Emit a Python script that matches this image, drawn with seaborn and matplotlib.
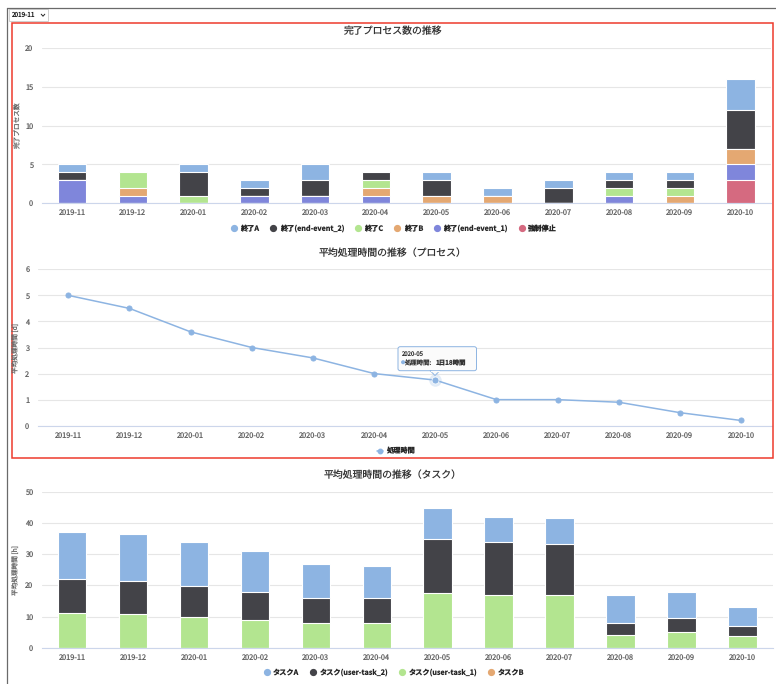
import numpy as np
import pandas as pd
import matplotlib
matplotlib.use("Agg")
import matplotlib.pyplot as plt
from matplotlib.lines import Line2D
from matplotlib.patches import Rectangle, FancyBboxPatch, Polygon
import seaborn as sns

# ---- data -------------------------------------------------------------
months = ["2019-11", "2019-12", "2020-01", "2020-02", "2020-03", "2020-04",
          "2020-05", "2020-06", "2020-07", "2020-08", "2020-09", "2020-10"]

# completed processes per month (count)
end_a = [1, 0, 1, 1, 2, 0, 1, 1, 1, 1, 1, 4]
end_event_2 = [1, 0, 3, 1, 2, 1, 2, 0, 2, 1, 1, 5]
end_c = [0, 2, 1, 0, 0, 1, 0, 0, 0, 1, 1, 0]
end_b = [0, 1, 0, 0, 0, 1, 1, 1, 0, 0, 1, 2]
end_event_1 = [3, 1, 0, 1, 1, 1, 0, 0, 0, 1, 0, 2]
forced_stop = [0, 0, 0, 0, 0, 0, 0, 0, 0, 0, 0, 3]

# average process duration [d]
process_days = [5.0, 4.5, 3.6, 3.0, 2.6, 2.0, 1.75, 1.0, 1.0, 0.9, 0.5, 0.2]

# average task duration [h]
task_a = [15.0, 14.8, 14.0, 13.0, 10.8, 10.2, 10.0, 8.0, 8.4, 8.9, 8.3, 6.3]
task_user_2 = [11.0, 10.7, 9.9, 9.0, 8.0, 8.0, 17.4, 16.9, 16.4, 4.0, 4.7, 3.3]
task_user_1 = [11.0, 10.8, 10.0, 9.0, 8.0, 8.0, 17.5, 17.0, 16.9, 4.0, 4.9, 3.6]
task_b = [0, 0, 0, 0, 0, 0, 0, 0, 0, 0, 0, 0]

# ---- style ------------------------------------------------------------
sns.set_theme(style="white")
plt.rcParams["font.family"] = ["Noto Sans CJK JP", "DejaVu Sans"]
plt.rcParams["text.hinting"] = "no_hinting"
plt.rcParams["text.hinting_factor"] = 1

C_BLUE = "#8db4e2"
C_DARK = "#434348"
C_GREEN = "#b3e590"
C_ORANGE = "#e4a872"
C_PURPLE = "#7f86db"
C_RED = "#d56a80"
GRID = "#e6e6e6"
AXIS = "#ccd6eb"
LABEL = "#666666"
TITLE = "#333333"

W, H = 776, 684
fig = plt.figure(figsize=(W / 100, H / 100), dpi=100)
fig.patch.set_facecolor("white")


def fx(px):
    return px / W


def fy(py):
    return 1 - py / H


def make_axes(left, right, top, bottom):
    return fig.add_axes([fx(left), fy(bottom), fx(right - left), (bottom - top) / H])


def style_axes(ax, ymax, ystep):
    ax.set_xlim(-0.5, len(months) - 0.5)
    ax.set_ylim(0, ymax)
    ax.set_yticks(np.arange(0, ymax + 0.001, ystep))
    ax.set_yticklabels([f"{v:g}" for v in np.arange(0, ymax + 0.001, ystep)])
    ax.yaxis.grid(True, color=GRID, linewidth=0.8)
    ax.xaxis.grid(False)
    ax.set_axisbelow(True)
    for s in ("left", "right", "top"):
        ax.spines[s].set_visible(False)
    ax.spines["bottom"].set_color(AXIS)
    ax.spines["bottom"].set_linewidth(0.8)
    ax.set_xticks(range(len(months)))
    ax.set_xticklabels(months)
    ax.set_xticks(np.arange(-0.5, len(months), 1.0), minor=True)
    ax.tick_params(axis="x", which="major", length=0, pad=4.2, labelsize=5.3, labelcolor=LABEL)
    ax.tick_params(axis="x", which="minor", length=3, width=0.8, color=AXIS)
    ax.tick_params(axis="y", length=0, pad=6, labelsize=5.3, labelcolor=LABEL)
    ax.set_xlabel("")
    ax.set_ylabel("")


def stacked_bars(ax, layers):
    # layers listed bottom -> top; draw cumulative totals from the top down
    cum = np.cumsum([np.asarray(v, float) for v, _ in layers], axis=0)
    for i in range(len(layers) - 1, -1, -1):
        df = pd.DataFrame({"month": months, "value": cum[i]})
        sns.barplot(data=df, x="month", y="value", order=months, color=layers[i][1],
                    saturation=1, width=0.47, edgecolor="white", linewidth=0.8, ax=ax,
                    errorbar=None)


def legend_at(handles, labels, cx, cy, ncol, spacing=1.5):
    fig.legend(handles, labels, loc="center", bbox_to_anchor=(fx(cx), fy(cy)),
               ncol=ncol, frameon=False, handlelength=0.8,
               handletextpad=0.5, columnspacing=spacing,
               prop={"weight": "bold", "size": 5.2})


def dot(color):
    return Line2D([], [], linestyle="none", marker="o", markersize=4.2,
                  markerfacecolor=color, markeredgecolor=color)


# ---- page frame ---------------------------------------------------------
fig.add_artist(Line2D([fx(7), fx(W)], [fy(8.3), fy(8.3)], color="#6a6a6a", linewidth=0.9))
fig.add_artist(Line2D([fx(7.3), fx(7.3)], [fy(8.3), fy(H)], color="#6a6a6a", linewidth=0.9))
fig.add_artist(Rectangle((fx(9), fy(21)), fx(39), 12.5 / H, facecolor="white",
                         edgecolor="#c8c8c8", linewidth=0.6))
fig.text(fx(11), fy(15.2), "2019-11", fontsize=4.6, color="#222222", va="center", ha="left")
fig.add_artist(Line2D([fx(41.2), fx(43), fx(44.8)], [fy(14.2), fy(16.2), fy(14.2)],
                      color="#222222", linewidth=0.7))
fig.add_artist(Rectangle((fx(11.7), fy(458.3)), fx(772.7 - 11.7), (458.3 - 22.7) / H,
                         facecolor="none", edgecolor="#ee3a2c", linewidth=1.1))

# ---- chart 1: completed processes ---------------------------------------
ax1 = make_axes(41.7, 771, 48, 203.3)
stacked_bars(ax1, [(forced_stop, C_RED), (end_event_1, C_PURPLE), (end_b, C_ORANGE),
                   (end_c, C_GREEN), (end_event_2, C_DARK), (end_a, C_BLUE)])
style_axes(ax1, 20, 5)
fig.text(fx(393), fy(31), "完了プロセス数の推移", fontsize=7.1, color=TITLE, ha="center", va="center")
fig.text(fx(18), fy(125.5), "完了プロセス数", fontsize=4.8, color=LABEL, rotation=90,
         ha="center", va="center")
legend_at([dot(C_BLUE), dot(C_DARK), dot(C_GREEN), dot(C_ORANGE), dot(C_PURPLE), dot(C_RED)],
          ["終了A", "終了(end-event_2)", "終了C", "終了B", "終了(end-event_1)", "強制停止"],
          394, 228.5, 6)

# ---- chart 2: average process duration ------------------------------------
ax2 = make_axes(37.7, 771.7, 269.3, 425.7)
sns.lineplot(x=np.arange(len(months)), y=process_days, color=C_BLUE, linewidth=1.1,
             marker="o", markersize=3.6, markeredgecolor=C_BLUE, ax=ax2)
style_axes(ax2, 6, 1)
hi = months.index("2020-05")
ax2.plot([hi], [process_days[hi]], marker="o", markersize=9, color=C_BLUE, alpha=0.25,
         markeredgewidth=0, zorder=4)
ax2.plot([hi], [process_days[hi]], marker="o", markersize=5, color=C_BLUE,
         markeredgecolor="white", markeredgewidth=0.5, zorder=5)
fig.text(fx(393), fy(253.3), "平均処理時間の推移（プロセス）", fontsize=7.1, color=TITLE,
         ha="center", va="center")
fig.text(fx(17), fy(348), "平均処理時間 [d]", fontsize=4.8, color=LABEL, rotation=90,
         ha="center", va="center")
legend_at([Line2D([], [], color=C_BLUE, linewidth=1.1, marker="o", markersize=3.2)],
          ["処理時間"], 396, 450.8, 1)

# tooltip on the highlighted month
fig.add_artist(FancyBboxPatch((fx(398), fy(370.7)), fx(78.5), 24 / H,
                              boxstyle="round,pad=0,rounding_size=0.003",
                              facecolor="#fbfbfb", edgecolor=C_BLUE, linewidth=0.7))
fig.add_artist(Polygon([[fx(430), fy(370.5)], [fx(435), fy(375.5)], [fx(440), fy(370.5)]],
                       closed=True, facecolor="#fbfbfb", edgecolor=C_BLUE, linewidth=0.7))
fig.add_artist(Line2D([fx(430.6), fx(439.4)], [fy(370.7), fy(370.7)], color="#fbfbfb",
                      linewidth=1.0))
fig.text(fx(401), fy(354), months[hi], fontsize=4.3, color=TITLE, ha="left", va="center")
fig.text(fx(401), fy(363.5), "●", fontsize=3.0, color=C_BLUE, ha="left", va="center")
fig.text(fx(404.5), fy(363.5), "処理時間:", fontsize=4.6, color=TITLE, ha="left", va="center")
fig.text(fx(436), fy(363.5), "1日18時間", fontsize=4.6, color=TITLE, ha="left", va="center",
         weight="bold")

# ---- chart 3: average task duration -----------------------------------
ax3 = make_axes(41.7, 773, 491.7, 647.7)
stacked_bars(ax3, [(task_b, C_ORANGE), (task_user_1, C_GREEN), (task_user_2, C_DARK),
                   (task_a, C_BLUE)])
style_axes(ax3, 50, 10)
fig.text(fx(393), fy(475), "平均処理時間の推移（タスク）", fontsize=7.1, color=TITLE,
         ha="center", va="center")
fig.text(fx(17), fy(570), "平均処理時間 [h]", fontsize=4.8, color=LABEL, rotation=90,
         ha="center", va="center")
legend_at([dot(C_BLUE), dot(C_DARK), dot(C_GREEN), dot(C_ORANGE)],
          ["タスクA", "タスク(user-task_2)", "タスク(user-task_1)", "タスクB"],
          394, 672.3, 4)

fig.savefig("out.png", dpi=100, facecolor="white")
